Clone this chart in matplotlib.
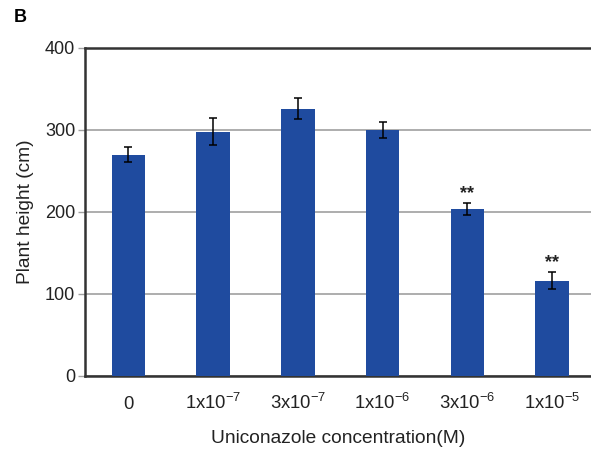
import matplotlib
matplotlib.use("Agg")
import matplotlib.pyplot as plt

plt.rcParams['font.family'] = ['Liberation Sans', 'DejaVu Sans']
plt.rcParams['mathtext.fontset'] = 'custom'
plt.rcParams['mathtext.rm'] = 'Liberation Sans'
plt.rcParams['mathtext.it'] = 'Liberation Sans'

concentrations = ['0', '1x10$^{-7}$', '3x10$^{-7}$', '1x10$^{-6}$', '3x10$^{-6}$', '1x10$^{-5}$']
heights = [270, 298, 326, 300, 204, 116]
errors = [9, 16.5, 13, 9.5, 7.5, 10.5]
stars = ['', '', '', '', '**', '**']

fig = plt.figure(figsize=(5.91, 4.55), dpi=100)
ax = fig.add_axes([85 / 591, 1 - 376 / 455, 1 - 85 / 591, (376 - 48) / 455])

x = list(range(len(heights)))
ax.bar(x, heights, width=0.395, color='#1f4b9f', zorder=3)
ax.errorbar(x, heights, yerr=errors, fmt='none', ecolor='black',
            elinewidth=1.1, capsize=3, capthick=1.1, zorder=4)

for i in range(len(heights)):
    if stars[i]:
        ax.text(x[i], heights[i] + errors[i] + 1, stars[i], ha='center',
                va='bottom', fontsize=13, fontweight='bold', color='#222222')

ax.set_xlim(-0.511, 5.46)
ax.set_ylim(0, 400)
ax.set_yticks([0, 100, 200, 300, 400])
ax.yaxis.grid(True, color='#a0a0a0', linewidth=1.2, zorder=0)
ax.set_axisbelow(True)

ax.set_xticks(x)
ax.set_xticklabels(concentrations, fontsize=13.3, color='#222222')
for lbl in ax.get_xticklabels():
    lbl.set_verticalalignment('baseline')
ax.tick_params(axis='x', length=0, pad=24)
ax.tick_params(axis='y', length=5, width=1, color='#a0a0a0', labelsize=13,
               labelcolor='#222222', pad=2)

for s in ['left', 'bottom', 'top']:
    ax.spines[s].set_linewidth(1.8)
    ax.spines[s].set_color('#333333')
ax.spines['right'].set_visible(False)

ax.set_xlabel('Uniconazole concentration(M)', fontsize=13.8, color='#222222', labelpad=12)
ax.set_ylabel('Plant height (cm)', fontsize=13.8, color='#222222', labelpad=8)

fig.text(14 / 591, 1 - 18 / 455, 'B', fontsize=13, fontweight='bold', va='center')

fig.savefig('out.png', dpi=100)
